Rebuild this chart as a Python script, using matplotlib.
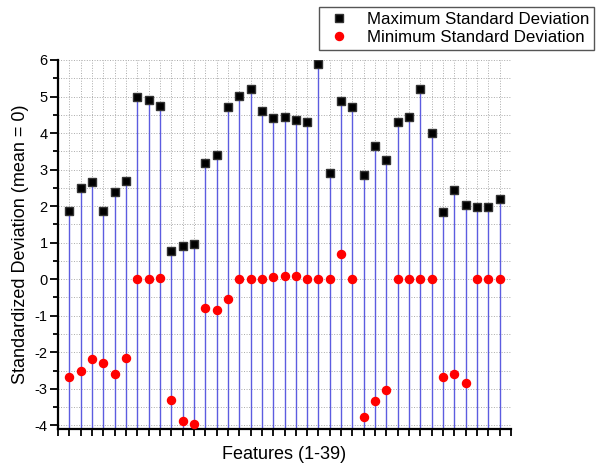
import numpy as np
import matplotlib.pyplot as plt
from matplotlib.ticker import MultipleLocator, NullFormatter

# standardized deviation per feature (mean = 0)
features = np.arange(1, 40)
max_std = [1.86, 2.51, 2.66, 1.86, 2.39, 2.68, 4.99, 4.90, 4.73, 0.77,
           0.91, 0.97, 3.18, 3.41, 4.71, 5.02, 5.21, 4.61, 4.41, 4.44,
           4.35, 4.29, 5.90, 2.92, 4.87, 4.71, 2.85, 3.65, 3.25, 4.29,
           4.44, 5.21, 3.99, 1.83, 2.44, 2.02, 1.99, 1.99, 2.19]
min_std = [-2.68, -2.50, -2.19, -2.29, -2.59, -2.16, 0.01, 0.00, 0.03, -3.31,
           -3.89, -3.96, -0.80, -0.83, -0.55, 0.00, 0.00, 0.00, 0.07, 0.08,
           0.08, 0.01, 0.00, 0.00, 0.69, 0.00, -3.76, -3.33, -3.02, 0.00,
           0.00, 0.01, 0.00, -2.67, -2.59, -2.83, 0.00, 0.00, 0.00]

plt.rcParams['font.family'] = ['Liberation Sans', 'DejaVu Sans']
plt.rcParams['axes.unicode_minus'] = False

fig = plt.figure(figsize=(5.96, 4.66), dpi=100)
ax = fig.add_axes([58/596, 37/466, 453/596, 369/466])

y_low, y_high = -4.1, 6
ax.set_xlim(0, 40)
ax.set_ylim(y_low, y_high)

# drop lines from the bottom axis up to the max points
ax.vlines(features, y_low, max_std, color='#5c5ce0', lw=1.0, zorder=2)
ax.plot(features, max_std, 's', color='black', ms=5.2, mec='#333333',
        label='Maximum Standard Deviation', zorder=4)
ax.plot(features, min_std, 'o', color='red', ms=5.8, mec='red',
        label='Minimum Standard Deviation', zorder=4)

for side in ['top', 'right']:
    ax.spines[side].set_visible(False)
for side in ['left', 'bottom']:
    ax.spines[side].set_linewidth(1.6)

ax.xaxis.set_major_locator(MultipleLocator(1))
ax.xaxis.set_major_formatter(NullFormatter())
ax.yaxis.set_major_locator(MultipleLocator(1))
ax.yaxis.set_minor_locator(MultipleLocator(0.5))
ax.tick_params(axis='x', which='major', direction='out', length=5, width=1.3)
ax.tick_params(axis='y', which='major', direction='out', length=5.5, width=1.3,
               labelsize=10.5, pad=2)
ax.tick_params(axis='y', which='minor', direction='out', length=3.5, width=1.3)

ax.set_axisbelow(True)
ax.grid(axis='x', which='major', color='#aaaaaa', ls=':', lw=0.7)
ax.grid(axis='y', which='both', color='#aaaaaa', ls=':', lw=0.7)

ax.set_xlabel('Features (1-39)', fontsize=13, labelpad=4)
ax.set_ylabel('Standardized Deviation (mean = 0)', fontsize=13, labelpad=4)

fig.legend(loc='upper right', bbox_to_anchor=(594/596, 1 - 7/466),
           borderaxespad=0, fancybox=False, edgecolor='#555555',
           fontsize=12.2, framealpha=1, handletextpad=0.8, borderpad=0.3,
           labelspacing=0.15, handlelength=1.7)

fig.savefig('out.png', dpi=100)
